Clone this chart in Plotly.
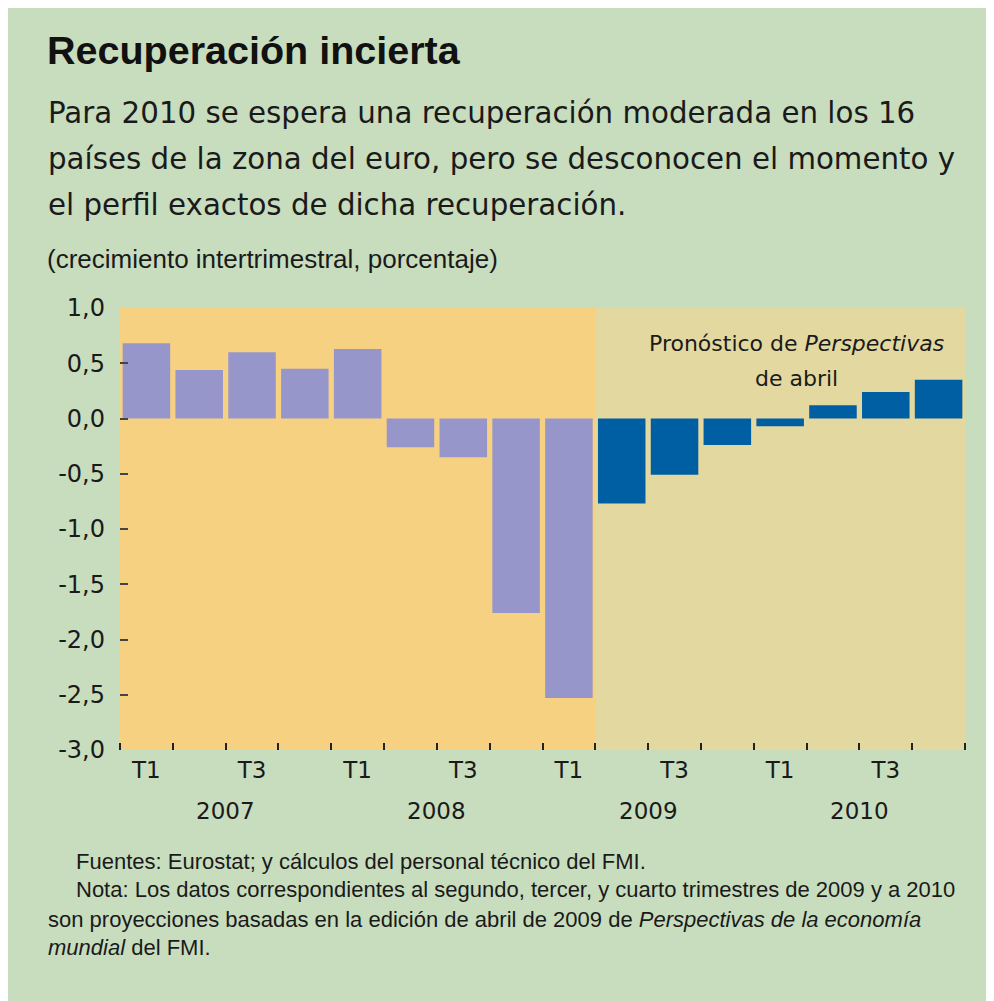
import plotly.graph_objects as go

# Data
quarters = ["2007T1", "2007T2", "2007T3", "2007T4",
            "2008T1", "2008T2", "2008T3", "2008T4",
            "2009T1", "2009T2", "2009T3", "2009T4",
            "2010T1", "2010T2", "2010T3", "2010T4"]
actual_values = [0.68, 0.44, 0.60, 0.45, 0.63, -0.26, -0.35, -1.76, -2.53]
forecast_values = [-0.77, -0.51, -0.24, -0.07, 0.12, 0.24, 0.35]
tick_labels = ["T1", "T3", "T1", "T3", "T1", "T3", "T1", "T3"]
years = ["2007", "2008", "2009", "2010"]
y_ticks = [1.0, 0.5, 0.0, -0.5, -1.0, -1.5, -2.0, -2.5, -3.0]

GREEN = "#c8ddbe"
ORANGE = "#f7d182"
KHAKI = "#e2d8a0"
PURPLE = "#9796cb"
BLUE = "#005ea2"

n_act = len(actual_values)
x_act = list(range(n_act))
x_fc = list(range(n_act, n_act + len(forecast_values)))

fig = go.Figure()
fig.add_trace(go.Bar(x=x_act, y=actual_values, marker=dict(color=PURPLE, line=dict(width=0)),
                     hovertext=quarters[:n_act], showlegend=False))
fig.add_trace(go.Bar(x=x_fc, y=forecast_values, marker=dict(color=BLUE, line=dict(width=0)),
                     hovertext=quarters[n_act:], showlegend=False))

# page is offset by the 8px body margin; work in reference page pixels
OFF = 8
W, H = 986, 993
L, T = 120 - OFF, 308 - OFF
R = W - (965 - OFF)
B = H - (750 - OFF)
pw = W - L - R
ph = H - T - B

def px_x(p):
    return (p - OFF - L) / pw

def px_y(p):
    return (H - B - (p - OFF)) / ph

shapes = [
    dict(type="rect", xref="x", yref="paper", x0=-0.5, x1=n_act - 0.5, y0=0, y1=1,
         fillcolor=ORANGE, line=dict(width=0), layer="below"),
]

FN = "Liberation Sans Narrow, Liberation Sans, Arial, sans-serif"
FR = "Liberation Sans, Arial, sans-serif"
FW = "DejaVu Sans, Verdana, sans-serif"

annotations = []
def txt(x, y, text, size, family=FR, color="#1a1a1a", xanchor="left", align="left"):
    annotations.append(dict(xref="paper", yref="paper", x=px_x(x), y=px_y(y), text=text,
                            showarrow=False, xanchor=xanchor, yanchor="middle", align=align,
                            font=dict(size=size, family=family, color=color)))

txt(45, 50, "<b>Recuperación incierta</b>", 39.5, family=FN, color="#111111")
txt(46, 113, "Para 2010 se espera una recuperación moderada en los 16", 29.3, family=FW)
txt(46, 159, "países de la zona del euro, pero se desconocen el momento y", 29.3, family=FW)
txt(46, 205, "el perfil exactos de dicha recuperación.", 29.3, family=FW)
txt(45, 259, "(crecimiento intertrimestral, porcentaje)", 26, family=FN)

txt(796, 343, "Pronóstico de <i>Perspectivas</i>", 22, family=FW, xanchor="center")
txt(796, 378, "de abril", 22, family=FW, xanchor="center")

txt(74, 861, "Fuentes: Eurostat; y cálculos del personal técnico del FMI.", 22, family=FN)
txt(74, 889, "Nota: Los datos correspondientes al segundo, tercer, y cuarto trimestres de 2009 y a 2010", 22, family=FN)
txt(46, 919, "son proyecciones basadas en la edición de abril de 2009 de <i>Perspectivas de la economía</i>", 22, family=FN)
txt(46, 947, "<i>mundial</i> del FMI.", 22, family=FN)

for i, yr in enumerate(years):
    annotations.append(dict(xref="x", yref="paper", x=4 * i + 1.5, y=px_y(811), text=yr,
                            showarrow=False, xanchor="center", yanchor="middle",
                            font=dict(size=23, family=FW, color="#1a1a1a")))

fig.update_layout(
    width=W, height=H,
    margin=dict(l=L, r=R, t=T, b=B),
    paper_bgcolor=GREEN, plot_bgcolor=KHAKI,
    bargap=0.1,
    shapes=shapes, annotations=annotations,
    xaxis=dict(range=[-0.5, 15.5], tickmode="array",
               tickvals=list(range(0, 16, 2)), ticktext=tick_labels,
               ticks="", showgrid=False, zeroline=False, showline=False,
               tickfont=dict(size=23, family=FW, color="#1a1a1a"),
               ticklabelstandoff=4,
               minor=dict(tickmode="array", tickvals=[i - 0.5 for i in range(17)],
                          ticks="inside", ticklen=7, tickwidth=1.5, tickcolor="#222222",
                          showgrid=False),
               fixedrange=True),
    yaxis=dict(range=[-3, 1], tickmode="array", tickvals=y_ticks,
               ticktext=[f"{v:.1f}".replace(".", ",") for v in y_ticks],
               ticks="inside", ticklen=8, tickwidth=2, tickcolor="#444444",
               showgrid=False, zeroline=False, showline=False,
               tickfont=dict(size=24, family=FW, color="#1a1a1a"),
               ticklabelstandoff=14,
               fixedrange=True),
)

fig.write_html("out.html")
